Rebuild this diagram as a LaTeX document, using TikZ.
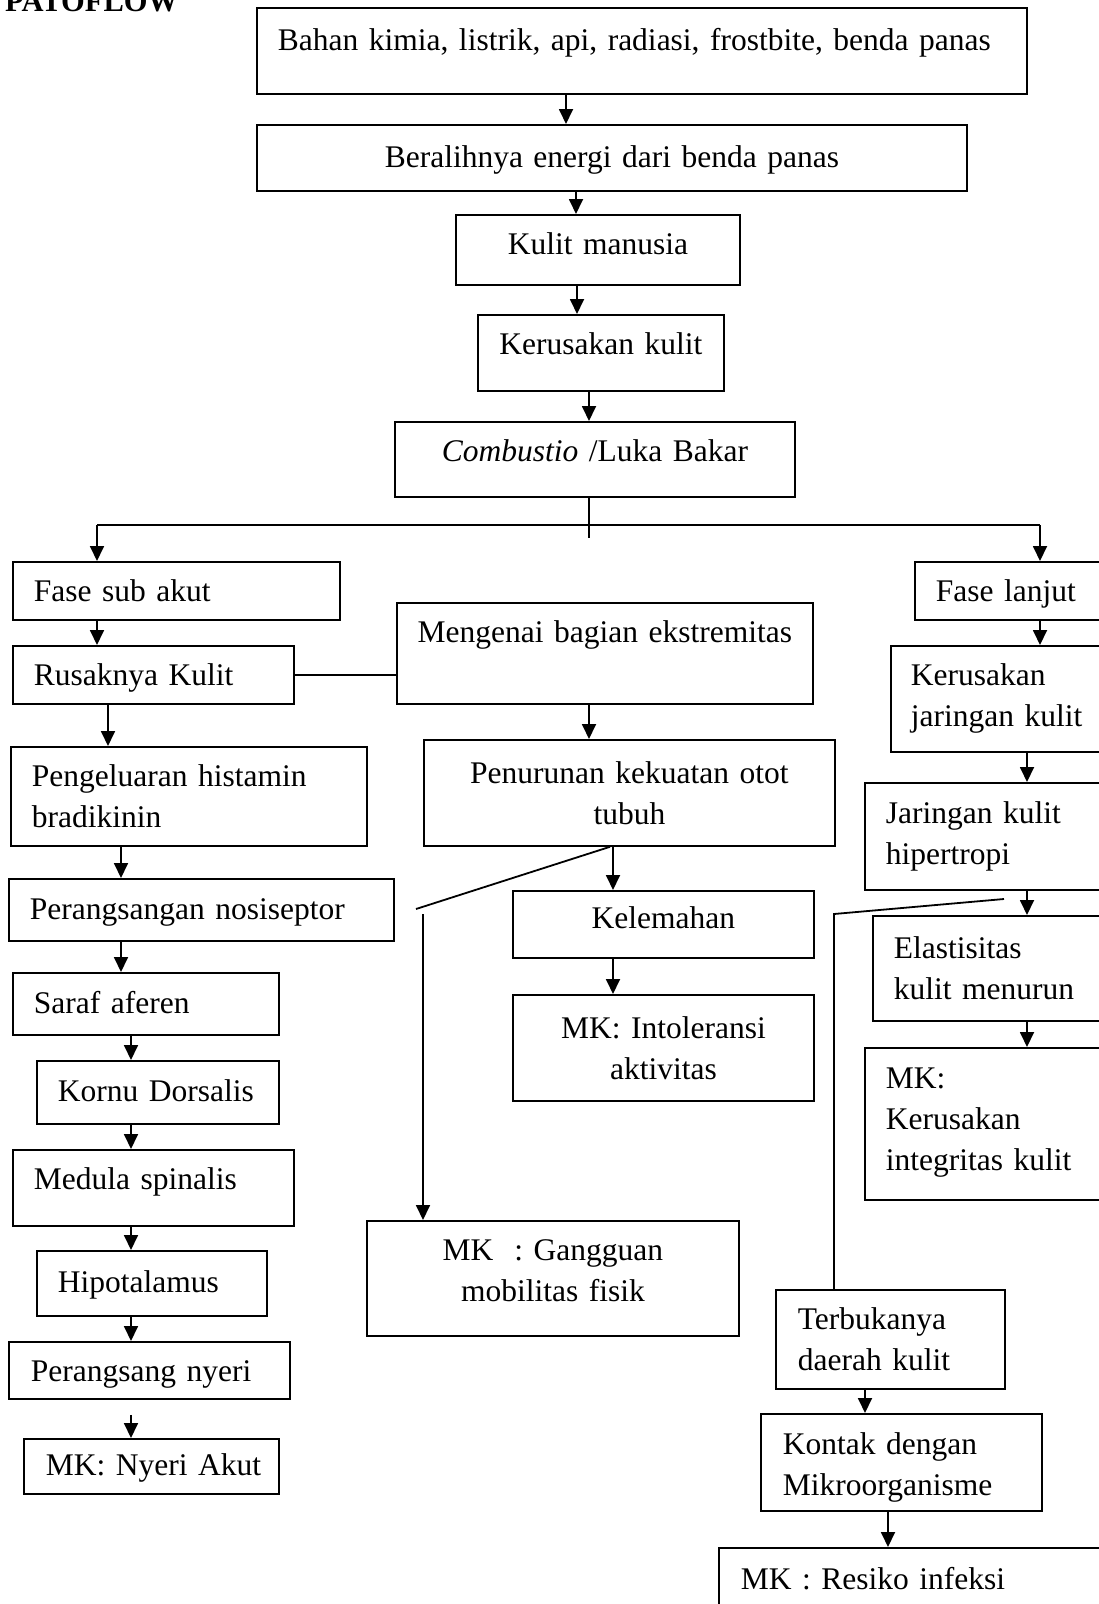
\documentclass[tikz,border=0pt]{standalone}
\usepackage{fontspec}
\setmainfont{Liberation Serif}
\usetikzlibrary{arrows.meta}
\tikzset{
  box/.style  ={draw, line width=1.8pt, anchor=north west, inner ysep=0pt,
                font=\fontsize{31.5}{41}\selectfont},
  % left text: the gap is a left skip, the box is as wide as the text width
  lbox/.style ={box, align=left, inner xsep=0pt,
                execute at begin node={\leftskip=#1\relax}},
  lbox/.default=21pt,
  cbox/.style ={box, align=center, inner xsep=10pt},
  % one line of text: fixed height and depth
  single/.style={text height=22pt, text depth=3pt},
  flow/.style ={-{Triangle[length=15pt,width=14pt]}, line width=1.8pt},
  link/.style ={line width=1.8pt},
}
\begin{document}
\begin{tikzpicture}[x=1pt,y=-1pt]
  \path[use as bounding box, clip] (0,0) rectangle (1099,1604);
  \node[font=\fontsize{30.5}{36}\selectfont\bfseries, anchor=base west, inner sep=0pt] (title) at (5,11) {PATOFLOW};
  % main trunk
  \node[lbox, single, text width=770pt, minimum height=86pt, text depth=23pt] (src) at (256,7) {Bahan kimia, listrik, api, radiasi, frostbite, benda panas};
  \node[cbox, single, text width=690pt, minimum height=66pt] (energi) at (256,124) {Beralihnya energi dari benda panas};
  \node[cbox, single, text width=264pt, minimum height=70pt, text depth=13pt] (kulit) at (455,214) {Kulit manusia};
  \node[cbox, single, text width=226pt, minimum height=76pt, text depth=19pt] (rusak) at (477,314) {Kerusakan kulit};
  \node[cbox, single, text width=380pt, minimum height=75pt, text depth=17pt] (luka) at (394,421) {\textit{Combustio} /Luka Bakar};
  % left branch
  \node[lbox, single, text width=327pt, minimum height=58pt, text depth=-1pt] (subakut) at (12,561) {Fase sub akut};
  \node[lbox, single, text width=281pt, minimum height=58pt, text depth=-1pt] (rusaknya) at (12,645) {Rusaknya Kulit};
  \node[lbox, text width=356pt, minimum height=99pt] (histamin) at (10,746) {Pengeluaran histamin\\bradikinin};
  \node[lbox, single, text width=385pt, minimum height=62pt] (nosi) at (8,878) {Perangsangan nosiseptor};
  \node[lbox, single, text width=266pt, minimum height=62pt] (aferen) at (12,972) {Saraf aferen};
  \node[lbox, single, text width=242pt, minimum height=63pt] (kornu) at (36,1060) {Kornu Dorsalis};
  \node[lbox, single, text width=281pt, minimum height=76pt, text depth=19pt] (medula) at (12,1149) {Medula spinalis};
  \node[lbox, single, text width=230pt, minimum height=65pt] (hipo) at (36,1250) {Hipotalamus};
  \node[lbox=22pt, single, text width=281pt, minimum height=57pt, text depth=-1pt] (perangsang) at (8,1341) {Perangsang nyeri};
  \node[lbox=22pt, single, text width=255pt, minimum height=55pt] (nyeri) at (23,1438) {MK: Nyeri Akut};
  % middle branch
  \node[cbox, single, text width=396pt, minimum height=101pt, text depth=43pt] (ekstrem) at (396,602) {Mengenai bagian ekstremitas};
  \node[cbox, text width=391pt, minimum height=106pt] (otot) at (423,739) {Penurunan kekuatan otot\\tubuh};
  \node[cbox, single, text width=281pt, minimum height=67pt, text depth=13pt] (lemah) at (512,890) {Kelemahan};
  \node[cbox, text width=281pt, minimum height=106pt] (intol) at (512,994) {MK: Intoleransi\\aktivitas};
  \node[cbox, text width=352pt, minimum height=115pt, text height=22pt, text depth=57pt] (gangguan) at (366,1220) {MK~~: Gangguan\\mobilitas fisik};
  % right branch
  \node[lbox, single, text width=206pt, minimum height=58pt, text depth=-1pt] (lanjut) at (914,561) {Fase lanjut};
  \node[lbox=20pt, text width=230pt, minimum height=106pt] (jaringan) at (890,645) {Kerusakan\\jaringan kulit};
  \node[lbox, text width=256pt, minimum height=107pt] (hiper) at (864,782) {Jaringan kulit\\hipertropi};
  \node[lbox, text width=248pt, minimum height=105pt] (elast) at (872,915) {Elastisitas\\kulit menurun};
  \node[lbox, text width=256pt, minimum height=152pt, text height=22pt, text depth=92pt] (integ) at (864,1047) {MK:\\Kerusakan\\integritas kulit};
  \node[lbox=22pt, text width=229pt, minimum height=99pt] (terbuka) at (775,1289) {Terbukanya\\daerah kulit};
  \node[lbox=22pt, text width=281pt, minimum height=97pt, text height=22pt, text depth=37pt] (kontak) at (760,1413) {Kontak dengan\\Mikroorganisme};
  \node[lbox=22pt, single, text width=402pt, minimum height=65pt] (resiko) at (718,1547) {MK : Resiko infeksi};
  % columns of the connectors
  \coordinate (xa) at (566,0);
  \coordinate (xb) at (576,0);
  \coordinate (xc) at (577,0);
  \coordinate (xd) at (589,0);
  \coordinate (xe) at (108,0);
  \coordinate (xf) at (121,0);
  \coordinate (xg) at (131,0);
  \coordinate (xh) at (613,0);
  \coordinate (xi) at (610,0);
  \coordinate (xj) at (1027,0);
  \coordinate (xk) at (865,0);
  \coordinate (xl) at (888,0);
  % split below the burn
  \coordinate (jl) at (97,525);
  \coordinate (jr) at (1040,525);
  \coordinate (jt) at (589,538);
  % side lines
  \coordinate (dl1) at (416,909);
  \coordinate (dl2) at (423,914);
  \coordinate (dr0) at (1004,899);
  \coordinate (dr1) at (834,914);
  \draw[flow] (src.south -| xa) -- (energi.north -| xa);
  \draw[flow] (energi.south -| xb) -- (kulit.north -| xb);
  \draw[flow] (kulit.south -| xc) -- (rusak.north -| xc);
  \draw[flow] (rusak.south -| xd) -- (luka.north -| xd);
  \draw[link] (luka.south -| xd) -- (jt);
  \draw[link] (jl) -- (jr);
  \draw[flow] (jl) -- (subakut.north -| jl);
  \draw[flow] (jr) -- (lanjut.north -| jr);
  % left
  \draw[flow] (subakut.south -| jl) -- (rusaknya.north -| jl);
  \draw[link] (rusaknya.east) -- (rusaknya.east -| ekstrem.west);
  \draw[flow] (rusaknya.south -| xe) -- (histamin.north -| xe);
  \draw[flow] (histamin.south -| xf) -- (nosi.north -| xf);
  \draw[flow] (nosi.south -| xf) -- (aferen.north -| xf);
  \draw[flow] (aferen.south -| xg) -- (kornu.north -| xg);
  \draw[flow] (kornu.south -| xg) -- (medula.north -| xg);
  \draw[flow] (medula.south -| xg) -- (hipo.north -| xg);
  \draw[flow] (hipo.south -| xg) -- (perangsang.north -| xg);
  \draw[flow, shorten <=15pt] (perangsang.south -| xg) -- (nyeri.north -| xg);
  % middle
  \draw[flow] (ekstrem.south -| xd) -- (otot.north -| xd);
  \draw[flow] (otot.south -| xh) -- (lemah.north -| xh);
  \draw[flow] (lemah.south -| xh) -- (intol.north -| xh);
  \draw[link] (otot.south -| xi) -- (dl1);
  \draw[flow] (dl2) -- (gangguan.north -| dl2);
  % right
  \draw[flow] (lanjut.south -| jr) -- (jaringan.north -| jr);
  \draw[flow] (jaringan.south -| xj) -- (hiper.north -| xj);
  \draw[flow] (hiper.south -| xj) -- (elast.north -| xj);
  \draw[flow] (elast.south -| xj) -- (integ.north -| xj);
  \draw[link] (dr0) -- (dr1) -- (terbuka.north -| dr1);
  \draw[flow] (terbuka.south -| xk) -- (kontak.north -| xk);
  \draw[flow] (kontak.south -| xl) -- (resiko.north -| xl);
\end{tikzpicture}
\end{document}
